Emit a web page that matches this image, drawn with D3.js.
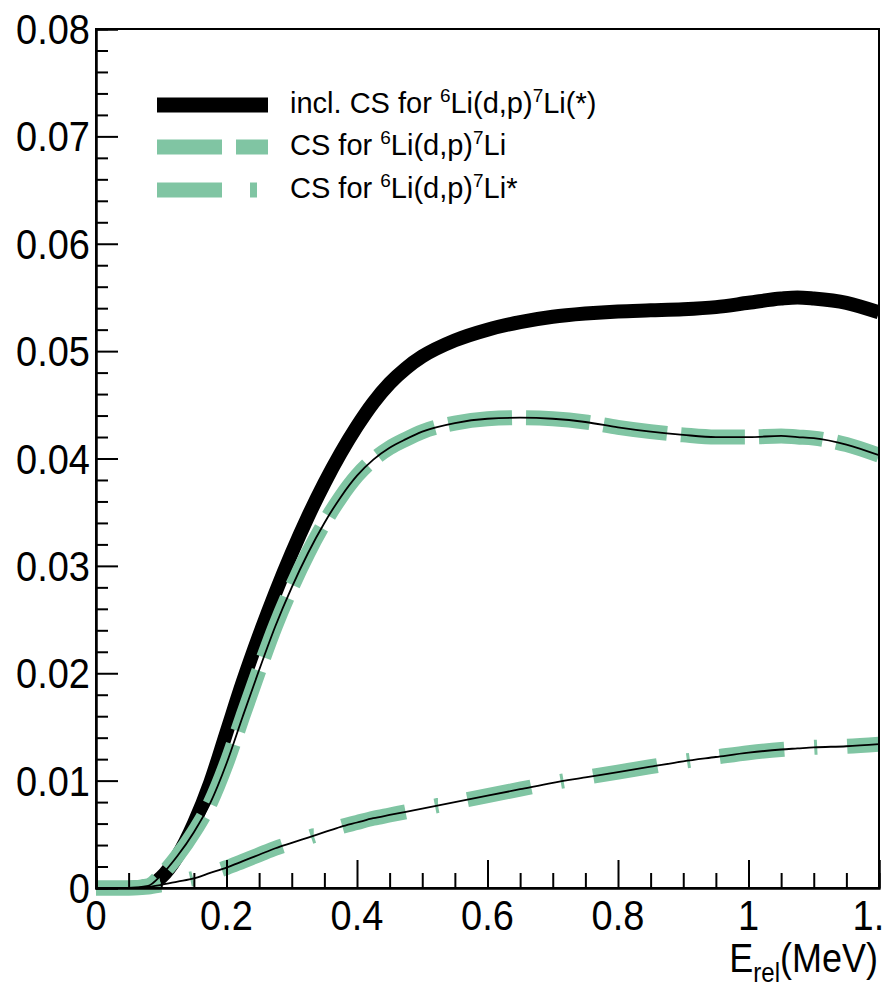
<!DOCTYPE html>
<html><head><meta charset="utf-8">
<script src="https://cdn.jsdelivr.net/npm/d3@7"></script>
<style>
body{margin:0;background:#fff}
svg{display:block}
text{font-family:"Liberation Sans",Arial,Helvetica,sans-serif;fill:#000}
</style>
</head><body><svg id="c" width="885" height="987"></svg>
<script>
// ---------- data ----------
const energies = [0,0.05,0.08,0.1,0.125,0.15,0.175,0.2,0.225,0.25,0.275,0.3,0.325,0.35,0.375,0.4,0.425,0.45,0.475,0.5,0.55,0.6,0.65,0.7,0.75,0.8,0.85,0.9,0.95,1.0,1.05,1.075,1.1,1.15,1.2];
const inclCS   = [0,0,0.0002,0.0010,0.0030,0.0060,0.0098,0.0145,0.0192,0.0235,0.0275,0.0312,0.0346,0.0377,0.0405,0.0430,0.0452,0.0470,0.0484,0.0495,0.0510,0.0520,0.0527,0.0532,0.0535,0.0537,0.0538,0.0539,0.0541,0.0545,0.0549,0.0550,0.0549,0.0545,0.0536];
const csLi     = [0,0,0.0002,0.0012,0.0030,0.0052,0.0079,0.0116,0.0160,0.0203,0.0244,0.0280,0.0312,0.0340,0.0364,0.0384,0.0399,0.0410,0.0418,0.0425,0.0433,0.0437,0.0438,0.0437,0.0434,0.0429,0.0425,0.0422,0.0420,0.0420,0.0421,0.0420,0.0419,0.0413,0.0403];
const csLiStar = [0,0,0.0001,0.0003,0.0006,0.0009,0.0014,0.0019,0.0025,0.0031,0.0037,0.0042,0.0047,0.0052,0.0057,0.0061,0.0065,0.0068,0.0071,0.0074,0.0080,0.0086,0.0092,0.0098,0.0103,0.0108,0.0113,0.0118,0.0122,0.0126,0.0129,0.0130,0.0131,0.0132,0.0134];

const xTickValues = [0,0.2,0.4,0.6,0.8,1,1.2];
const xTickLabels = ["0","0.2","0.4","0.6","0.8","1","1.2"];
const yTickValues = [0,0.01,0.02,0.03,0.04,0.05,0.06,0.07,0.08];
const yTickLabels = ["0","0.01","0.02","0.03","0.04","0.05","0.06","0.07","0.08"];

const legendParts = [
  [["incl. CS for ",0],["6",1],["Li(d,p)",0],["7",1],["Li(*)",0]],
  [["CS for ",0],["6",1],["Li(d,p)",0],["7",1],["Li",0]],
  [["CS for ",0],["6",1],["Li(d,p)",0],["7",1],["Li*",0]]
];

// ---------- layout ----------
const svg = d3.select("#c");
const L = 96, R = 879, T = 29, B = 888;
const x = d3.scaleLinear().domain([0,1.2]).range([L,R]);
const y = d3.scaleLinear().domain([0,0.08]).range([B,T]);
const green = "#80c5a3";

svg.append("rect").attr("width",885).attr("height",987).attr("fill","#fff");

svg.append("defs").append("clipPath").attr("id","clip")
  .append("rect").attr("x",L).attr("y",T-10).attr("width",R-L).attr("height",B-T+20);

const line = (vals) => d3.line().curve(d3.curveMonotoneX)
  .x((d,i)=>x(energies[i])).y(d=>y(d))(vals);

const g = svg.append("g").attr("clip-path","url(#clip)");
g.append("path").attr("d",line(inclCS)).attr("fill","none").attr("stroke","#000").attr("stroke-width",14);
g.append("path").attr("d",line(csLi)).attr("fill","none").attr("stroke",green).attr("stroke-width",15).attr("stroke-dasharray","64,14");
g.append("path").attr("d",line(csLiStar)).attr("fill","none").attr("stroke",green).attr("stroke-width",15).attr("stroke-dasharray","65,30,3,30");
g.append("path").attr("d",line(csLi)).attr("fill","none").attr("stroke","#000").attr("stroke-width",1.8);
g.append("path").attr("d",line(csLiStar)).attr("fill","none").attr("stroke","#000").attr("stroke-width",1.8);

// ---------- frame & axes ----------
svg.append("rect").attr("x",L).attr("y",T).attr("width",R-L).attr("height",B-T)
  .attr("fill","none").attr("stroke","#000").attr("stroke-width",2);

const yMinor = d3.range(0,0.0801,0.002).filter(v=>Math.abs(v*100-Math.round(v*100))>1e-6);
const xMinor = d3.range(0,1.2001,0.05).filter(v=>Math.abs(v*5-Math.round(v*5))>1e-6);

const yAxMaj = d3.axisLeft(y).tickValues(yTickValues).tickSize(-22).tickFormat("");
const yAxMin = d3.axisLeft(y).tickValues(yMinor).tickSize(-12).tickFormat("");
const xAxMaj = d3.axisBottom(x).tickValues(xTickValues).tickSize(-28).tickFormat("");
const xAxMin = d3.axisBottom(x).tickValues(xMinor).tickSize(-15).tickFormat("");
[[yAxMaj,`translate(${L},0)`],[yAxMin,`translate(${L},0)`],[xAxMaj,`translate(0,${B})`],[xAxMin,`translate(0,${B})`]].forEach(([ax,tr])=>{
  const a = svg.append("g").attr("transform",tr).call(ax);
  a.select(".domain").attr("stroke","#000").attr("stroke-width",2);
  a.selectAll(".tick line").attr("stroke","#000").attr("stroke-width",2);
});

// tick labels
yTickValues.forEach((v,i)=>{
  svg.append("text").attr("transform",`translate(90,${y(v)+15}) scale(1,1.1)`)
    .attr("text-anchor","end").attr("font-size",38).text(yTickLabels[i]);
});
xTickValues.forEach((v,i)=>{
  svg.append("text").attr("transform",`translate(${x(v)},930) scale(1,1.1)`)
    .attr("text-anchor","middle").attr("font-size",38).text(xTickLabels[i]);
});

// x title
const xt = svg.append("text").attr("transform","translate(878,972) scale(1,1.15)")
  .attr("text-anchor","end").attr("font-size",36);
xt.append("tspan").text("E");
xt.append("tspan").attr("font-size",24).attr("dy",9).text("rel");
xt.append("tspan").attr("dy",-9).text("(MeV)");

// ---------- legend ----------
const legY = [105,147,190];
const legStyles = [
  {stroke:"#000",dash:null,w:15},
  {stroke:green,dash:"65,14",w:15},
  {stroke:green,dash:"65,28,7,28",w:15}
];
legY.forEach((ly,i)=>{
  svg.append("line").attr("x1",157).attr("x2",268).attr("y1",ly).attr("y2",ly)
    .attr("stroke",legStyles[i].stroke).attr("stroke-width",legStyles[i].w)
    .attr("stroke-dasharray",legStyles[i].dash);
  const t = svg.append("text").attr("x",290).attr("y",ly+8).attr("font-size",29);
  let up = false;
  legendParts[i].forEach(([s,sup])=>{
    const ts = t.append("tspan").text(s);
    if(sup && !up){ts.attr("font-size",19).attr("dy",-11); up=true;}
    else if(!sup && up){ts.attr("dy",11); up=false;}
  });
});
</script>
</body></html>
